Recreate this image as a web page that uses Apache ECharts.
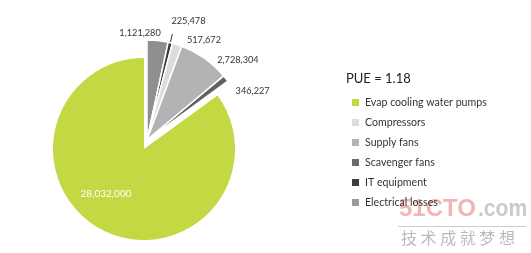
<!DOCTYPE html>
<html>
<head>
<meta charset="utf-8">
<script src="https://cdn.jsdelivr.net/npm/echarts@6/dist/echarts.min.js"></script>
<style>
html,body{margin:0;padding:0;background:#fff;}
#chart{width:531px;height:253px;}
</style>
</head>
<body>
<div id="chart"></div>
<script>
// clockwise from 12 o'clock
const categories = ['Electrical losses', 'IT equipment', 'Compressors', 'Supply fans', 'Scavenger fans', 'Evap cooling water pumps'];
const values = [1121280, 225478, 517672, 2728304, 346227, 28032000];
const valueLabels = ['1,121,280', '225,478', '517,672', '2,728,304', '346,227', '28,032,000'];
const legendOrder = ['Evap cooling water pumps', 'Compressors', 'Supply fans', 'Scavenger fans', 'IT equipment', 'Electrical losses'];
const titleText = 'PUE = 1.18';

const sliceColors = {
  'Electrical losses': '#8e8f91',
  'IT equipment': '#3a3a3c',
  'Compressors': '#dcdcdd',
  'Supply fans': '#b2b3b5',
  'Scavenger fans': '#606163',
  'Evap cooling water pumps': '#c4d843'
};
const legendColors = {
  'Evap cooling water pumps': '#c4d843',
  'Compressors': '#dddddd',
  'Supply fans': '#b4b4b4',
  'Scavenger fans': '#6a6a6a',
  'IT equipment': '#3c3c3c',
  'Electrical losses': '#9a9a9a'
};
const labelNudge = {
  'Electrical losses': [-47, -2],
  'IT equipment': [-6, -13],
  'Compressors': [0, 1],
  'Supply fans': [1, 7],
  'Scavenger fans': [-3, 16],
  'Evap cooling water pumps': [-16, 2]
};
const GREEN = 'Evap cooling water pumps';

const font = 'Lato, "Noto Sans", sans-serif';

function makeData(showGreen) {
  return categories.map((c, i) => {
    const isGreen = c === GREEN;
    const visible = showGreen ? isGreen : !isGreen;
    const item = { name: c, value: values[i] };
    if (!visible) {
      item.itemStyle = { color: 'rgba(0,0,0,0)', borderWidth: 0 };
      item.label = { show: false };
      item.labelLine = { show: false };
      item.emphasis = { disabled: true };
      item.tooltip = { show: false };
    } else {
      item.itemStyle = { color: sliceColors[c] };
      if (c === 'IT equipment') item.labelLine = { show: true, length: 9, length2: 0 };
    }
    return item;
  });
}

const chart = echarts.init(document.getElementById('chart'));
chart.setOption({
  animation: false,
  title: {
    text: titleText,
    left: 341, top: 67,
    textStyle: { fontFamily: font, fontSize: 13, fontWeight: 'normal', color: '#222' }
  },
  legend: {
    orient: 'vertical',
    left: 347, top: 91,
    icon: 'rect',
    itemWidth: 7, itemHeight: 7,
    itemGap: 7,
    selectedMode: false,
    textStyle: { fontFamily: font, fontSize: 10.6, color: '#333', lineHeight: 13, padding: [0, 0, 0, 1] },
    data: legendOrder.map(n => ({ name: n, itemStyle: { color: legendColors[n] } }))
  },
  graphic: [
    { type: 'text', left: 399, top: 197, silent: true,
      style: { text: '51CTO', font: 'bold 24px "Liberation Sans", Arial, sans-serif', fill: 'rgba(225,110,110,0.5)' } },
    { type: 'text', left: 478, top: 197, silent: true, scaleX: 0.88,
      style: { text: '.com', font: 'bold 24px "Liberation Sans", Arial, sans-serif', fill: 'rgba(150,150,150,0.5)' } },
    { type: 'rect', silent: true, shape: { x: 398, y: 226, width: 128, height: 1 }, style: { fill: 'rgba(170,170,170,0.6)' } },
    { type: 'text', left: 401, top: 230, silent: true,
      style: { text: '技 术 成 就 梦 想', font: '16px "Noto Sans CJK SC", sans-serif', fill: 'rgba(140,140,140,0.6)' } }
  ],
  series: [
    {
      type: 'pie',
      center: [144, 149],
      radius: [0, 91],
      startAngle: 90,
      clockwise: true,
      avoidLabelOverlap: false,
      silent: true,
      itemStyle: { borderColor: '#fff', borderWidth: 0 },
      label: {
        show: true, position: 'inside',
        formatter: p => valueLabels[p.dataIndex],
        color: '#fff', fontFamily: font, fontSize: 10
      },
      labelLine: { show: false },
      labelLayout: p => {
        const n = labelNudge[categories[p.dataIndex]];
        return { dx: n[0], dy: n[1] };
      },
      data: makeData(true)
    },
    {
      type: 'pie',
      center: [147, 140],
      radius: [0, 100],
      startAngle: 90,
      clockwise: true,
      avoidLabelOverlap: false,
      silent: true,
      itemStyle: { borderColor: '#fff', borderWidth: 1.5 },
      label: {
        show: true, position: 'outside',
        formatter: p => valueLabels[p.dataIndex],
        color: '#333', fontFamily: font, fontSize: 9.2
      },
      labelLine: { show: false, length: 6, length2: 3, lineStyle: { color: '#333', width: 1 } },
      labelLayout: p => {
        const n = labelNudge[categories[p.dataIndex]];
        return { dx: n[0], dy: n[1] };
      },
      data: makeData(false)
    }
  ]
});
</script>
</body>
</html>
